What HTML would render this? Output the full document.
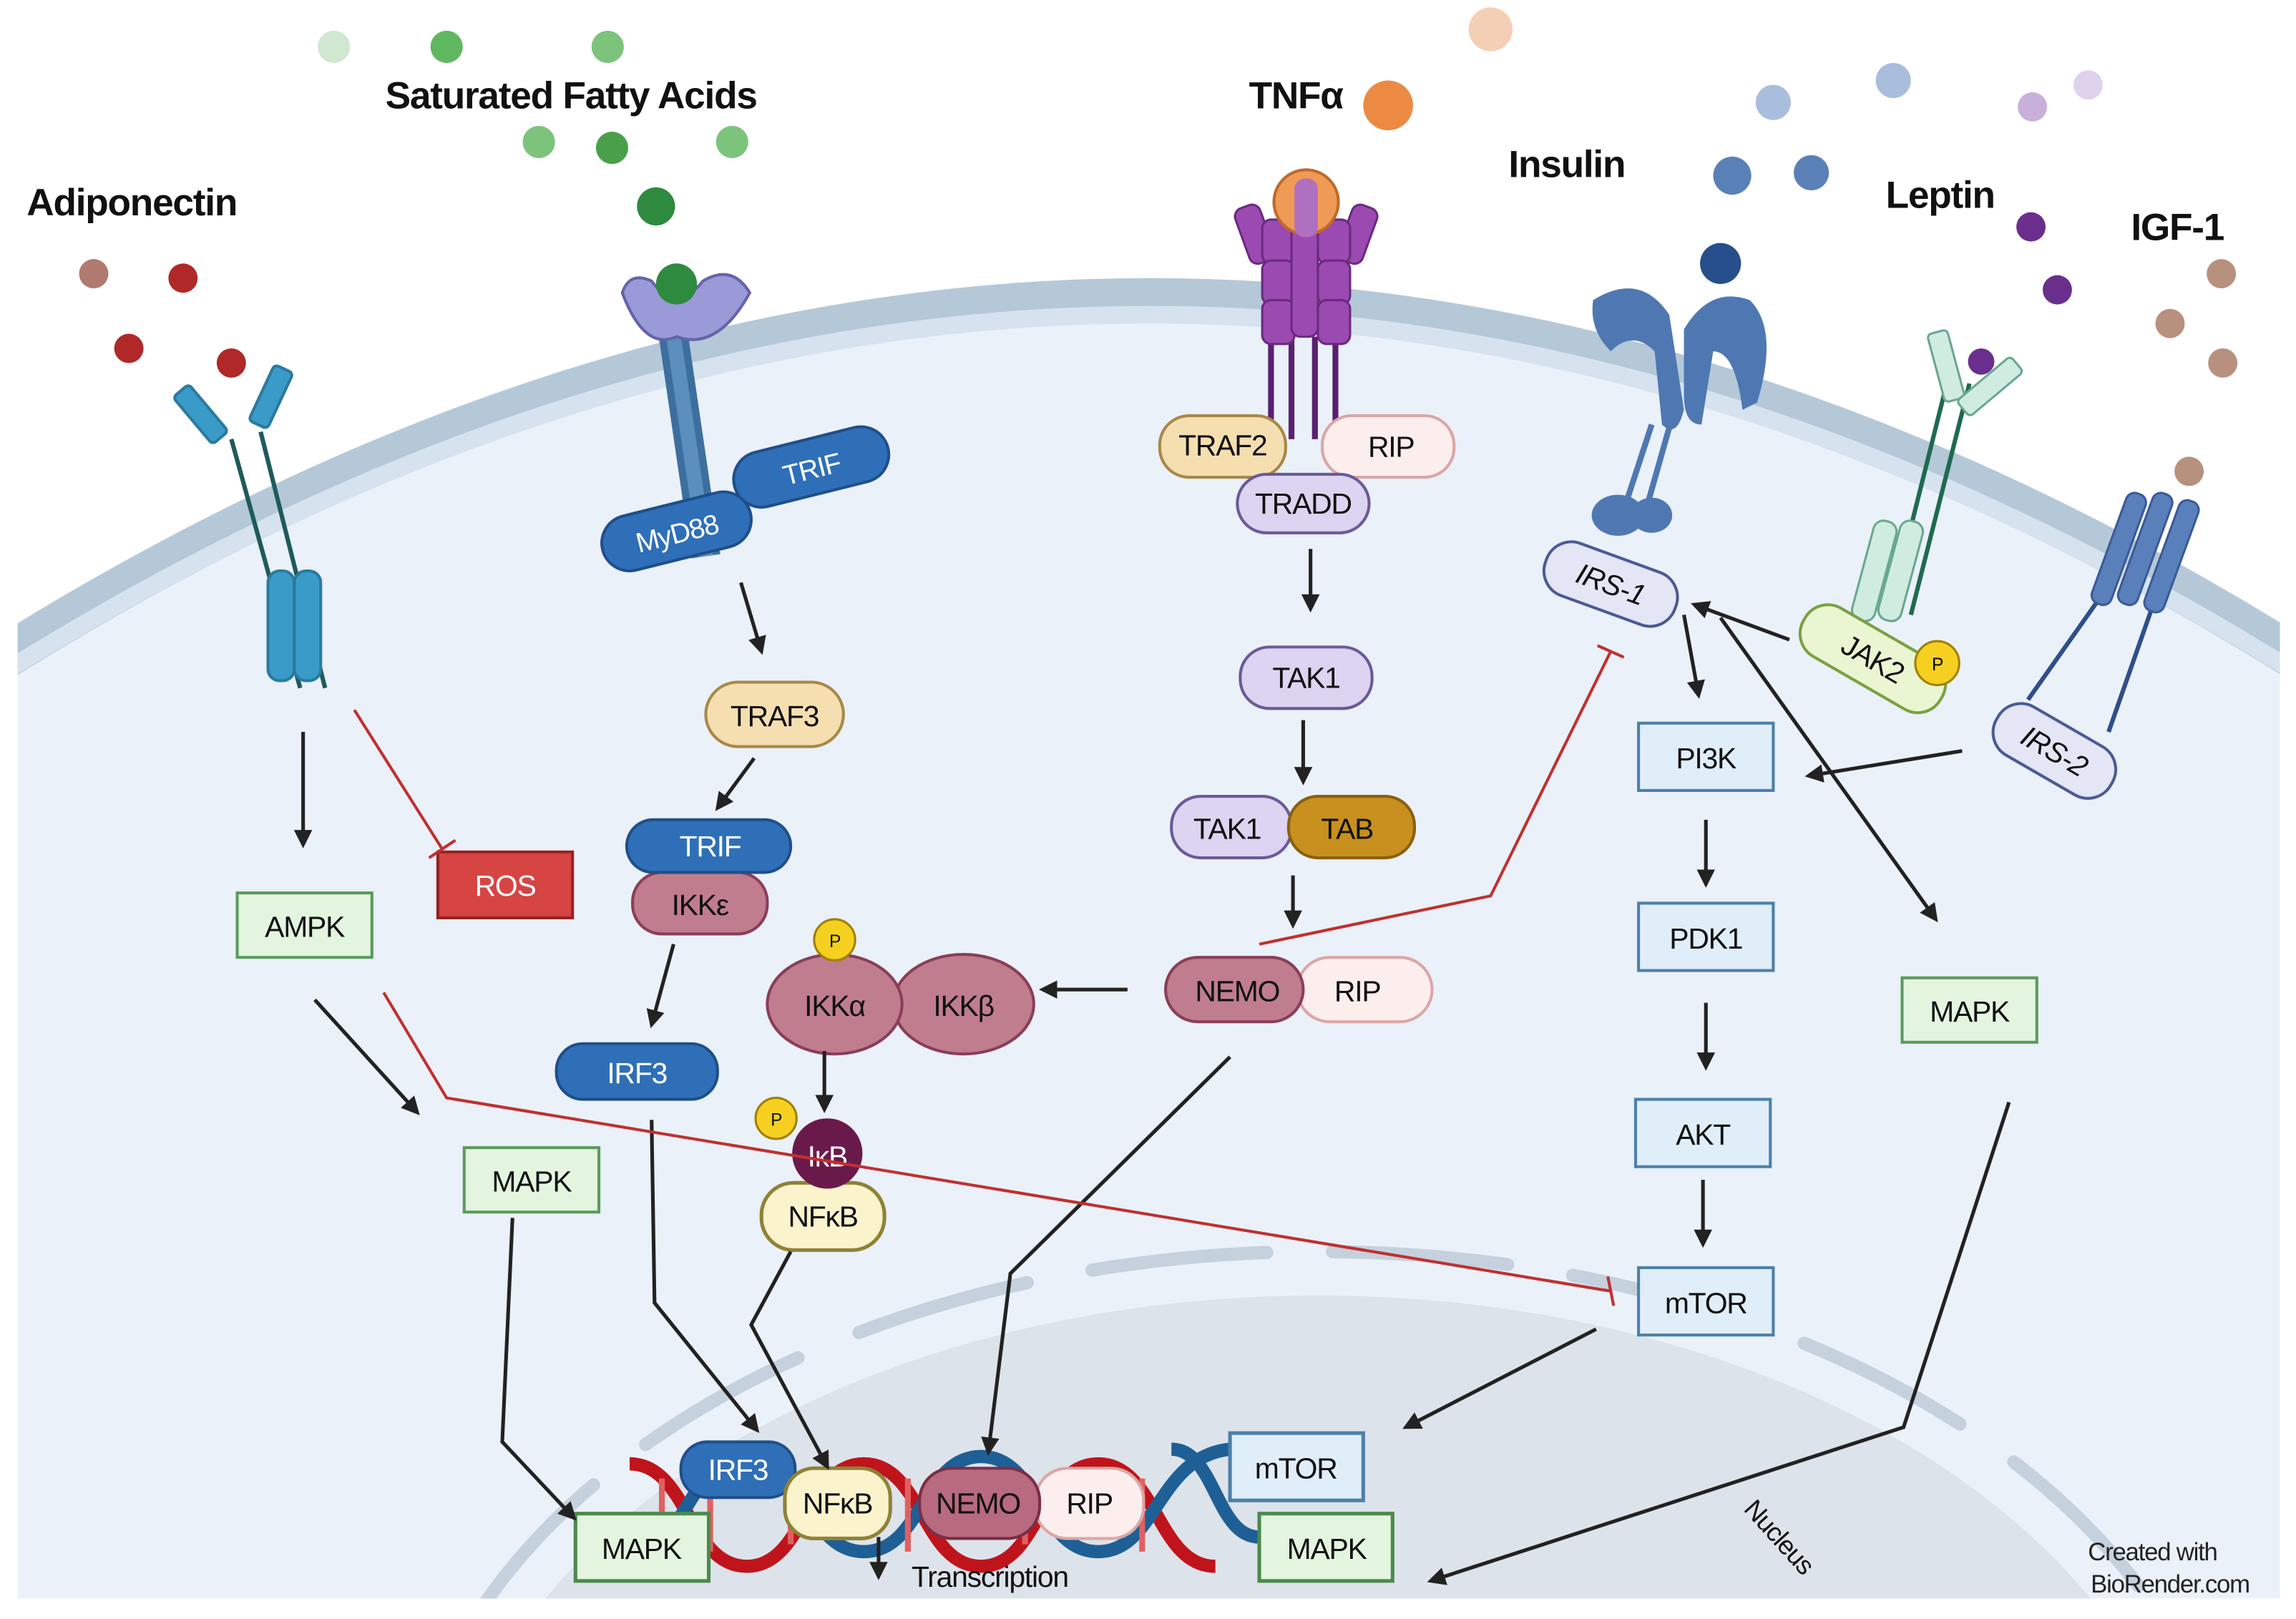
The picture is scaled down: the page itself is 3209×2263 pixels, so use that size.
<!DOCTYPE html>
<html><head><meta charset="utf-8"><style>
html,body{margin:0;padding:0;background:#fff;width:3209px;height:2263px;overflow:hidden}
svg{display:block}
text{font-family:"Liberation Sans",sans-serif;letter-spacing:-0.6px}
</style></head><body>
<svg width="3209" height="2263" viewBox="0 0 1568 1106" preserveAspectRatio="none" xmlns="http://www.w3.org/2000/svg">
<defs>
<marker id="a" viewBox="0 0 10 10" refX="8" refY="5" markerWidth="5" markerHeight="5" orient="auto"><path d="M0,0L10,5L0,10z" fill="#222"/></marker>
<clipPath id="cell"><rect x="12" y="0" width="1545" height="1092"/></clipPath>
</defs>
<rect width="1568" height="1106" fill="#fff"/>
<g clip-path="url(#cell)">
<path d="M-30,470 Q785,-60 1600,470 L1600,1092 L-30,1092z" fill="#eaf1f9"/>
<path d="M-30,470 Q785,-60 1600,470" fill="none" stroke="#b4c8d8" stroke-width="30"/>
<path d="M-30,480 Q785,-50 1600,480" fill="none" stroke="#d6e3ee" stroke-width="12"/>
<ellipse cx="900" cy="1280" rx="600" ry="395" fill="#dde3ea"/>
<ellipse cx="900" cy="1265" rx="625" ry="410" fill="none" stroke="#c5d1dd" stroke-width="9" stroke-dasharray="120,45" stroke-linecap="round"/>
</g>
<g font-size="26" fill="#111" text-anchor="middle" font-weight="bold">
<text x="390" y="74">Saturated Fatty Acids</text>
<text x="90" y="147">Adiponectin</text>
<text x="885" y="74">TNFα</text>
<text x="1070" y="121">Insulin</text>
<text x="1325" y="142">Leptin</text>
<text x="1487" y="164">IGF-1</text>
</g>
<g>
<circle cx="228" cy="32" r="11" fill="#cfe8cf"/><circle cx="305" cy="32" r="11" fill="#5fb85f"/><circle cx="415" cy="32" r="11" fill="#7cc47c"/>
<circle cx="368" cy="97" r="11" fill="#7cc47c"/><circle cx="418" cy="101" r="11" fill="#4aa04a"/><circle cx="500" cy="97" r="11" fill="#7cc47c"/>
<circle cx="448" cy="141" r="13" fill="#2e8a3e"/>
<circle cx="64" cy="187" r="10" fill="#b07a70"/><circle cx="125" cy="190" r="10" fill="#b02828"/><circle cx="88" cy="238" r="10" fill="#b02828"/><circle cx="158" cy="248" r="10" fill="#b02828"/>
<circle cx="1211" cy="70" r="12" fill="#a9bddd"/><circle cx="1293" cy="55" r="12" fill="#a9bddd"/><circle cx="1183" cy="120" r="13" fill="#5a80b8"/><circle cx="1237" cy="118" r="12" fill="#5a80b8"/><circle cx="1175" cy="180" r="14" fill="#264f8c"/>
<circle cx="1388" cy="73" r="10" fill="#c8b0da"/><circle cx="1426" cy="58" r="10" fill="#dfd2ec"/><circle cx="1387" cy="155" r="10" fill="#6a2f8c"/><circle cx="1405" cy="198" r="10" fill="#6a2f8c"/>
<circle cx="1517" cy="187" r="10" fill="#b8907e"/><circle cx="1482" cy="221" r="10" fill="#b8907e"/><circle cx="1518" cy="248" r="10" fill="#b8907e"/><circle cx="1495" cy="322" r="10" fill="#b8907e"/>
<circle cx="948" cy="72" r="17" fill="#ec8a44"/><circle cx="1018" cy="20" r="15" fill="#f5cfb5"/>
</g>
<g stroke="#1f5a5a" stroke-width="3" fill="none"><path d="M158,300 L205,470"/><path d="M178,295 L222,470"/></g>
<g fill="#3a9bc8" stroke="#2a7aa0" stroke-width="2">
<rect x="130" y="262" width="14" height="42" rx="3" transform="rotate(-40 137 283)"/>
<rect x="178" y="250" width="14" height="42" rx="3" transform="rotate(25 185 271)"/>
<rect x="183" y="390" width="18" height="75" rx="8"/><rect x="201" y="390" width="18" height="75" rx="8"/>
</g>
<path d="M460,230 L482,380" stroke="#3d6f9e" stroke-width="20"/>
<path d="M460,230 L482,380" stroke="#5b8fbe" stroke-width="10"/>
<path d="M425,200 Q440,240 462,230 Q490,240 512,200 Q500,180 480,192 Q462,215 445,192 Q430,185 425,200z" fill="#9a9ad8" stroke="#6464a8" stroke-width="2"/>
<circle cx="462" cy="194" r="14" fill="#2e8a3e"/>
<rect x="500" y="300" width="108" height="38" rx="19" fill="#2f6fb8" stroke="#1f4f8a" stroke-width="2" transform="rotate(-14 554 319)"/>
<text x="554" y="327" font-size="19" fill="#fff" text-anchor="middle" transform="rotate(-14 554 319)">TRIF</text>
<rect x="410" y="344" width="104" height="38" rx="19" fill="#2f6fb8" stroke="#1f4f8a" stroke-width="2" transform="rotate(-14 462 363)"/>
<text x="462" y="371" font-size="19" fill="#fff" text-anchor="middle" transform="rotate(-14 462 363)">MyD88</text>
<g stroke="#5a2070" stroke-width="4"><path d="M868,230V300M882,230V300M898,230V300M912,230V300"/></g>
<g fill="#9a4ab0" stroke="#6a2a80" stroke-width="1.5">
<rect x="848" y="140" width="18" height="40" rx="6" transform="rotate(-20 857 160)"/><rect x="918" y="140" width="18" height="40" rx="6" transform="rotate(20 927 160)"/>
<rect x="862" y="150" width="22" height="30" rx="6"/><rect x="900" y="150" width="22" height="30" rx="6"/>
<rect x="862" y="178" width="22" height="30" rx="6"/><rect x="900" y="178" width="22" height="30" rx="6"/>
<rect x="862" y="205" width="22" height="30" rx="6"/><rect x="900" y="205" width="22" height="30" rx="6"/>
<rect x="882" y="140" width="18" height="90" rx="6"/>
</g>
<circle cx="892" cy="138" r="22" fill="#ef9a55" stroke="#c06a2a" stroke-width="2"/>
<rect x="884" y="122" width="16" height="40" rx="7" fill="#b070c0"/>
<g font-size="20" text-anchor="middle" fill="#111">
<rect x="792" y="284" width="86" height="42" rx="20" fill="#f5dfb0" stroke="#a88848" stroke-width="2"/><text x="835" y="311">TRAF2</text>
<rect x="903" y="284" width="90" height="42" rx="20" fill="#fdeeee" stroke="#dba6a6" stroke-width="2"/><text x="950" y="312">RIP</text>
<rect x="845" y="324" width="90" height="40" rx="20" fill="#dcd4f0" stroke="#6a5a98" stroke-width="2"/><text x="890" y="351">TRADD</text>
<rect x="847" y="442" width="90" height="42" rx="20" fill="#dcd4f0" stroke="#6a5a98" stroke-width="2"/><text x="892" y="470">TAK1</text>
<rect x="800" y="544" width="82" height="42" rx="20" fill="#dcd4f0" stroke="#6a5a98" stroke-width="2"/><text x="838" y="573">TAK1</text>
<rect x="880" y="544" width="86" height="42" rx="20" fill="#c8901e" stroke="#8a6010" stroke-width="2"/><text x="920" y="573">TAB</text>
<rect x="886" y="654" width="92" height="44" rx="22" fill="#fdeeee" stroke="#dba6a6" stroke-width="2"/><text x="927" y="684">RIP</text>
<rect x="796" y="654" width="94" height="44" rx="22" fill="#c07d8e" stroke="#8a3e58" stroke-width="2"/><text x="845" y="684">NEMO</text>
<ellipse cx="658" cy="686" rx="48" ry="34" fill="#c07d8e" stroke="#8a3e58" stroke-width="2"/><text x="658" y="694">IKKβ</text>
<ellipse cx="570" cy="686" rx="46" ry="34" fill="#c07d8e" stroke="#8a3e58" stroke-width="2"/><text x="570" y="694">IKKα</text>
<circle cx="570" cy="642" r="14" fill="#f5d020" stroke="#a08000" stroke-width="1.5"/><text x="570" y="647" font-size="12">P</text>
<rect x="520" y="808" width="84" height="46" rx="22" fill="#fbf3cc" stroke="#8e8236" stroke-width="2.5"/><text x="562" y="838">NFκB</text>
<circle cx="565" cy="788" r="24" fill="#6a1a4a"/><text x="565" y="797" fill="#fff">IκB</text>
<circle cx="530" cy="764" r="14" fill="#f5d020" stroke="#a08000" stroke-width="1.5"/><text x="530" y="769" font-size="12">P</text>
<rect x="482" y="466" width="94" height="44" rx="22" fill="#f5dfb0" stroke="#a88848" stroke-width="2"/><text x="529" y="496">TRAF3</text>
<rect x="432" y="596" width="92" height="42" rx="20" fill="#c07d8e" stroke="#8a3e58" stroke-width="2"/><text x="478" y="625">IKKε</text>
<rect x="428" y="560" width="112" height="36" rx="18" fill="#2f6fb8" stroke="#1f4f8a" stroke-width="2"/><text x="485" y="585" fill="#fff">TRIF</text>
<rect x="380" y="713" width="110" height="38" rx="18" fill="#2f6fb8" stroke="#1f4f8a" stroke-width="2"/><text x="435" y="740" fill="#fff">IRF3</text>
<rect x="162" y="610" width="92" height="44" fill="#e3f5df" stroke="#5c9a5c" stroke-width="2"/><text x="208" y="640">AMPK</text>
<rect x="299" y="582" width="92" height="45" fill="#d64444" stroke="#9a2020" stroke-width="2"/><text x="345" y="612" fill="#fff">ROS</text>
<rect x="317" y="784" width="92" height="44" fill="#e3f5df" stroke="#5c9a5c" stroke-width="2"/><text x="363" y="814">MAPK</text>
<rect x="1299" y="668" width="92" height="44" fill="#e3f5df" stroke="#5c9a5c" stroke-width="2"/><text x="1345" y="698">MAPK</text>
<rect x="1119" y="494" width="92" height="46" fill="#e0eef9" stroke="#4d80a8" stroke-width="2"/><text x="1165" y="525">PI3K</text>
<rect x="1119" y="617" width="92" height="46" fill="#e0eef9" stroke="#4d80a8" stroke-width="2"/><text x="1165" y="648">PDK1</text>
<rect x="1117" y="751" width="92" height="46" fill="#e0eef9" stroke="#4d80a8" stroke-width="2"/><text x="1163" y="782">AKT</text>
<rect x="1119" y="866" width="92" height="46" fill="#e0eef9" stroke="#4d80a8" stroke-width="2"/><text x="1165" y="897">mTOR</text>
</g>
<g fill="#4f78b2">
<path d="M1088,205 Q1120,185 1140,215 L1150,280 Q1145,300 1135,290 L1130,240 Q1115,225 1100,240 Q1085,225 1088,205z"/>
<path d="M1150,225 Q1168,195 1195,205 Q1215,225 1200,275 L1190,280 Q1185,240 1170,240 L1162,290 Q1150,290 1150,270z"/>
<path d="M1128,290 L1110,345 M1140,292 L1125,345" stroke="#4f78b2" stroke-width="4" fill="none"/>
<ellipse cx="1105" cy="352" rx="18" ry="14"/><ellipse cx="1128" cy="352" rx="14" ry="12"/>
</g>
<rect x="1053" y="380" width="94" height="38" rx="18" fill="#e4e6f5" stroke="#4a5a95" stroke-width="2" transform="rotate(20 1100 399)"/>
<text x="1100" y="406" font-size="20" font-style="italic" text-anchor="middle" fill="#111" transform="rotate(20 1100 399)">IRS-1</text>
<g stroke="#1f6a50" stroke-width="3" fill="none"><path d="M1330,260 L1290,420"/><path d="M1345,262 L1305,420"/></g>
<g fill="#d0ece0" stroke="#6aa890" stroke-width="1.5">
<rect x="1322" y="226" width="14" height="48" rx="3" transform="rotate(-15 1329 250)"/>
<rect x="1352" y="240" width="14" height="48" rx="3" transform="rotate(50 1359 264)"/>
<rect x="1272" y="355" width="16" height="70" rx="7" transform="rotate(15 1280 390)"/><rect x="1290" y="355" width="16" height="70" rx="7" transform="rotate(15 1298 390)"/>
</g>
<circle cx="1353" cy="247" r="9" fill="#6a2f8c"/>
<rect x="1225" y="431" width="108" height="38" rx="18" fill="#eaf5d2" stroke="#7aa040" stroke-width="2" transform="rotate(30 1279 450)"/>
<text x="1279" y="457" font-size="20" text-anchor="middle" fill="#111" transform="rotate(30 1279 450)">JAK2</text>
<circle cx="1323" cy="453" r="15" fill="#f5d020" stroke="#a08000" stroke-width="1.5"/><text x="1323" y="458" font-size="12" text-anchor="middle">P</text>
<g stroke="#2f4f8a" stroke-width="3" fill="none"><path d="M1440,400 L1385,478"/><path d="M1475,400 L1440,500"/></g>
<g fill="#5a80bb" stroke="#3a5a98" stroke-width="1.5">
<rect x="1440" y="335" width="14" height="80" rx="6" transform="rotate(20 1447 375)"/><rect x="1458" y="335" width="14" height="80" rx="6" transform="rotate(20 1465 375)"/><rect x="1476" y="340" width="14" height="80" rx="6" transform="rotate(20 1483 380)"/>
</g>
<rect x="1358" y="494" width="90" height="38" rx="18" fill="#e4e6f5" stroke="#4a5a95" stroke-width="2" transform="rotate(30 1403 513)"/>
<text x="1403" y="520" font-size="20" font-style="italic" text-anchor="middle" fill="#111" transform="rotate(30 1403 513)">IRS-2</text>
<g fill="none" stroke-width="9">
<path d="M430,1000 C470,1000 470,1070 510,1070 S550,1000 590,1000 S630,1070 670,1070 S710,1000 750,1000 S790,1070 830,1070" stroke="#c0141c"/>
<path d="M430,1060 C470,1060 470,995 510,995 S550,1060 590,1060 S630,995 670,995 S710,1060 750,1060 S790,995 840,990" stroke="#1e5f96"/>
<path d="M800,990 C830,990 830,1050 860,1050" stroke="#1e5f96"/>
</g>
<g stroke="#e06060" stroke-width="4"><path d="M452,1010V1050M485,1010V1060M540,1010V1055M620,1010V1060M700,1010V1055M780,1010V1060"/></g>
<g font-size="20" text-anchor="middle" fill="#111">
<rect x="393" y="1034" width="91" height="46" fill="#e3f5df" stroke="#4c8a4c" stroke-width="2.5"/><text x="438" y="1065">MAPK</text>
<rect x="860" y="1034" width="91" height="46" fill="#e3f5df" stroke="#4c8a4c" stroke-width="2.5"/><text x="906" y="1065">MAPK</text>
<rect x="840" y="979" width="91" height="46" fill="#e0eef9" stroke="#4d80a8" stroke-width="2.5"/><text x="885" y="1010">mTOR</text>
<rect x="465" y="985" width="78" height="38" rx="18" fill="#2f6fb8" stroke="#1f4f8a" stroke-width="2"/><text x="504" y="1011" fill="#fff">IRF3</text>
<rect x="707" y="1003" width="74" height="48" rx="22" fill="#fdeeee" stroke="#dba6a6" stroke-width="2"/><text x="744" y="1034">RIP</text>
<rect x="628" y="1003" width="82" height="48" rx="22" fill="#b86a7e" stroke="#7a2e48" stroke-width="2"/><text x="668" y="1034">NEMO</text>
<rect x="536" y="1003" width="72" height="48" rx="20" fill="#fbf3cc" stroke="#8e8236" stroke-width="2.5"/><text x="572" y="1034">NFκB</text>
<text x="676" y="1084">Transcription</text>
</g>
<text x="1215" y="1056" font-size="18" text-anchor="middle" fill="#111" transform="rotate(48 1215 1050)">Nucleus</text>
<text x="1470" y="1066" font-size="17" text-anchor="middle" fill="#222">Created with</text>
<text x="1482" y="1088" font-size="17" text-anchor="middle" fill="#222">BioRender.com</text>
<g stroke="#222" stroke-width="2.5" fill="none" marker-end="url(#a)">
<path d="M895,375V416"/><path d="M890,492V534"/><path d="M883,598V632"/><path d="M770,676H712"/>
<path d="M563,718V758"/><path d="M506,398L520,445"/><path d="M515,518L490,552"/><path d="M460,645L445,700"/>
<path d="M207,500V577"/><path d="M215,683L285,760"/>
<path d="M1150,420L1160,475"/><path d="M1165,560V604"/><path d="M1165,685V729"/><path d="M1163,806V850"/>
<path d="M1222,437L1157,413"/><path d="M1340,513L1235,530"/><path d="M1175,422L1322,628"/>
<path d="M1372,753L1300,975L977,1080"/>
<path d="M350,832L343,985L392,1037"/><path d="M445,765L447,890L517,977"/><path d="M540,855L513,905L565,1002"/>
<path d="M840,722L690,870L675,992"/><path d="M1090,908L960,975"/><path d="M600,1050V1077"/>
</g>
<g stroke="#c03030" stroke-width="2" fill="none">
<path d="M242,485L302,580"/><path d="M293,586L311,574"/>
<path d="M262,678L305,750L1100,882"/><path d="M1098,872L1102,892"/>
<path d="M860,645L1018,612L1100,445"/><path d="M1091,441L1109,449"/>
</g>
</svg>
</body></html>
